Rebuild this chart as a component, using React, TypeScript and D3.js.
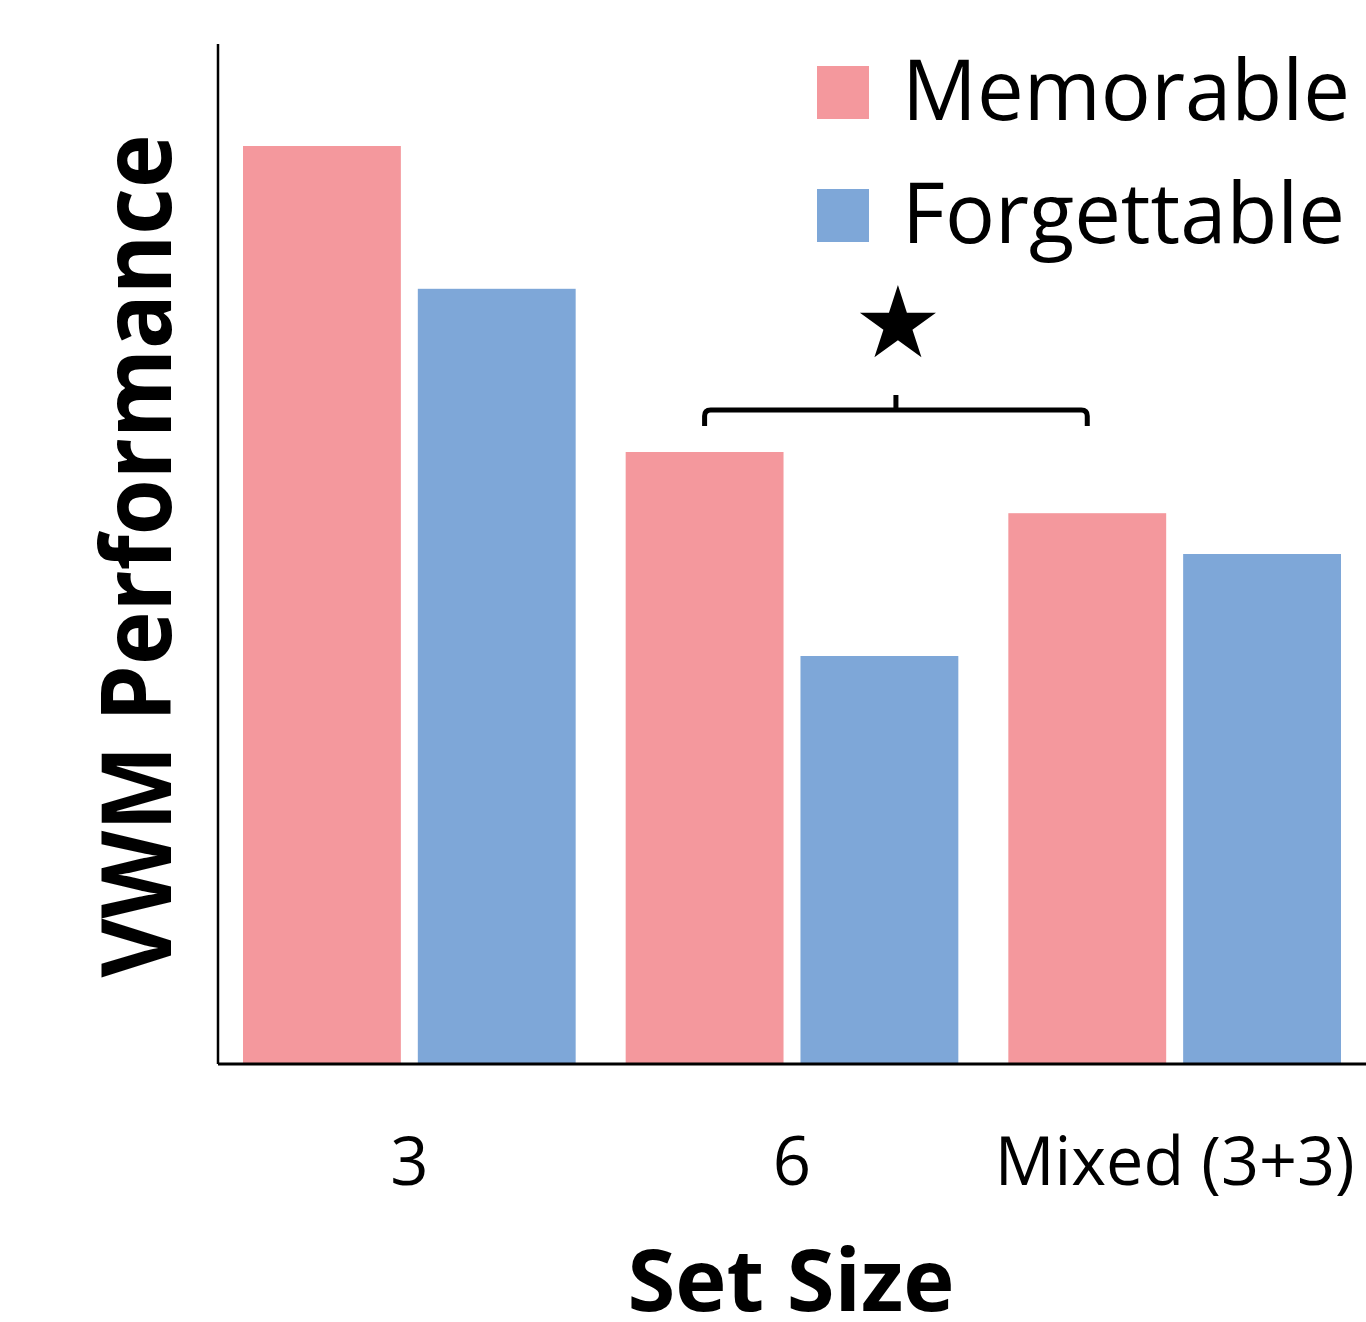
import React from "react";
import * as d3 from "d3";

const categories = ["3", "6", "Mixed (3+3)"];
const seriesNames = ["Memorable", "Forgettable"];
const memorable = [0.9, 0.6, 0.54];
const forgettable = [0.76, 0.4, 0.5];
const seriesColors = ["#F4989D", "#7EA7D8"];

const W = 1366;
const H = 1322;
const FONT = "'Open Sans', 'Noto Sans', sans-serif";

export default function App() {
  const axisX = 218;
  const baseY = 1064;
  const topY = 44;

  const x0 = d3.scaleBand<string>().domain(categories).range([axisX, W]).padding(0);
  const inset = 25;
  const x1 = d3
    .scaleBand<string>()
    .domain(seriesNames)
    .range([inset, x0.bandwidth() - inset])
    .paddingInner(0.097)
    .paddingOuter(0);
  const y = d3.scaleLinear().domain([0, 1]).range([baseY, topY]);

  const values = [memorable, forgettable];
  const bw = x1.bandwidth();

  const bracketY = 410;
  const left = (x0("6") as number) + (x1("Memorable") as number) + bw / 2;
  const right = (x0("Mixed (3+3)") as number) + (x1("Memorable") as number) + bw / 2;
  const mid = (left + right) / 2;
  const r = 6;
  const bracketPath = d3.path();
  bracketPath.moveTo(left, bracketY + 16);
  bracketPath.lineTo(left, bracketY + r);
  bracketPath.quadraticCurveTo(left, bracketY, left + r, bracketY);
  bracketPath.lineTo(right - r, bracketY);
  bracketPath.quadraticCurveTo(right, bracketY, right, bracketY + r);
  bracketPath.lineTo(right, bracketY + 16);
  bracketPath.moveTo(mid, bracketY);
  bracketPath.lineTo(mid, bracketY - 15);

  const starR = 40;
  const star = d3.symbol().type(d3.symbolStar).size((starR * starR) / 0.8908130915292852)();

  const legendX = 817;
  const legendRows = [
    { top: 66, baseline: 120, width: 448 },
    { top: 189, baseline: 243, width: 443 },
  ];

  return (
    <svg
      width={W}
      height={H}
      style={{ position: "absolute", left: 0, top: 0, display: "block", background: "#fff" }}
    >
      {categories.map((c, i) => (
        <g key={c} transform={`translate(${x0(c)},0)`}>
          {seriesNames.map((s, j) => (
            <rect
              key={s}
              x={x1(s)}
              y={y(values[j][i])}
              width={bw}
              height={baseY - y(values[j][i])}
              fill={seriesColors[j]}
            />
          ))}
        </g>
      ))}

      <line x1={axisX} x2={axisX} y1={topY} y2={baseY} stroke="#000" strokeWidth={2.5} />
      <line x1={axisX} x2={W} y1={baseY} y2={baseY} stroke="#000" strokeWidth={3} />

      {categories.map((c) => (
        <text
          key={c}
          x={(x0(c) as number) + x0.bandwidth() / 2}
          y={1185}
          textAnchor="middle"
          fontFamily={FONT}
          fontSize={67}
          fill="#000"
          {...(c.length > 2 ? { textLength: 360, lengthAdjust: "spacingAndGlyphs" } : {})}
        >
          {c}
        </text>
      ))}

      <text
        x={791}
        y={1311}
        textAnchor="middle"
        fontFamily={FONT}
        fontWeight={700}
        fontSize={86}
        textLength={327}
        lengthAdjust="spacingAndGlyphs"
        fill="#000"
      >
        Set Size
      </text>

      <text
        transform={`translate(171,556) rotate(-90)`}
        textAnchor="middle"
        fontFamily={FONT}
        fontWeight={700}
        fontSize={97}
        textLength={843}
        lengthAdjust="spacingAndGlyphs"
        fill="#000"
      >
        VWM Performance
      </text>

      {seriesNames.map((s, j) => (
        <g key={s}>
          <rect x={legendX} y={legendRows[j].top} width={52} height={53} fill={seriesColors[j]} />
          <text
            x={902}
            y={legendRows[j].baseline}
            fontFamily={FONT}
            fontSize={85}
            textLength={legendRows[j].width}
            lengthAdjust="spacingAndGlyphs"
            fill="#000"
          >
            {s}
          </text>
        </g>
      ))}

      <path
        d={bracketPath.toString()}
        fill="none"
        stroke="#000"
        strokeWidth={5}
        strokeLinejoin="round"
      />
      <path d={star as string} transform={`translate(${mid + 2},${285 + starR})`} fill="#000" />
    </svg>
  );
}
